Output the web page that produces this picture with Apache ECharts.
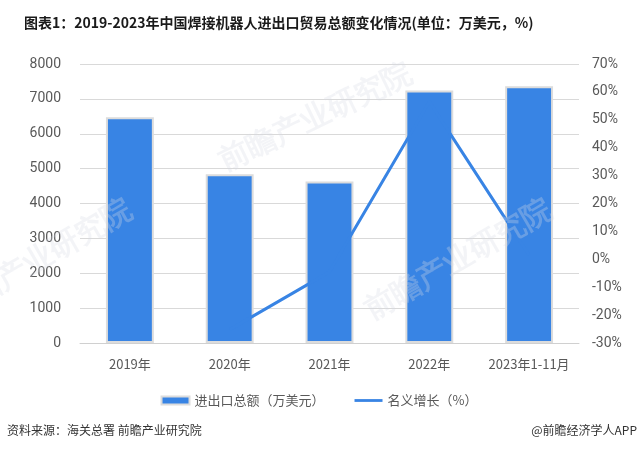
<!DOCTYPE html>
<html>
<head>
<meta charset="utf-8">
<script src="https://cdn.jsdelivr.net/npm/echarts@6/dist/echarts.min.js"></script>
<style>
  html, body { margin: 0; padding: 0; background: #fff; }
  #main { width: 638px; height: 452px; }
</style>
</head>
<body>
<div id="main"></div>
<script>
// 数据
var years = ['2019年', '2020年', '2021年', '2022年', '2023年1-11月'];
var totals = [6470, 4840, 4630, 7240, 7360];      // 进出口总额（万美元）
var growth = [null, -25.2, -4.5, 56.5, 1.5];      // 名义增长（%）

var blue = '#3884e4';
var grey = '#595959';
var wmColor = 'rgba(215,219,228,0.3)';

var chart = echarts.init(document.getElementById('main'));
chart.setOption({
  backgroundColor: '#fff',
  animation: false,
  title: {
    text: '图表1：2019-2023年中国焊接机器人进出口贸易总额变化情况(单位：万美元，%)',
    left: 19,
    top: 11,
    textStyle: { fontSize: 14, fontWeight: 'bold', color: '#1a1a1a', fontFamily: 'Noto Sans CJK SC' }
  },
  legend: {
    top: 389,
    left: 'center',
    itemGap: 30,
    itemWidth: 28,
    itemHeight: 8,
    textStyle: { fontSize: 13, color: grey, fontFamily: 'Noto Sans CJK SC' },
    data: [
      { name: '进出口总额（万美元）', icon: 'rect' },
      { name: '名义增长（%）', icon: 'path://M0,0 H30 V3 H0 Z' }
    ]
  },
  grid: { left: 80, right: 59, top: 64, bottom: 109 },
  xAxis: {
    type: 'category',
    data: years,
    axisLine: { lineStyle: { color: '#d0d0d0' } },
    axisTick: { length: 5, lineStyle: { color: '#d0d0d0' } },
    axisLabel: { color: grey, fontSize: 13, margin: 15, interval: 0, fontFamily: 'Noto Sans CJK SC' }
  },
  yAxis: [
    {
      type: 'value',
      min: 0, max: 8000, interval: 1000,
      axisLabel: { color: grey, fontSize: 14, margin: 19, formatter: function (v) { return String(v); }, fontFamily: 'Roboto' },
      splitLine: { lineStyle: { color: '#d9d9d9' } }
    },
    {
      type: 'value',
      min: -30, max: 70, interval: 10,
      axisLabel: { color: grey, fontSize: 14, margin: 13, formatter: '{value}%', fontFamily: 'Roboto' },
      splitLine: { show: false }
    }
  ],
  series: [
    {
      name: '进出口总额（万美元）',
      type: 'bar',
      data: totals,
      barWidth: '48%',
      itemStyle: { color: blue, borderColor: '#dcdcdc', borderWidth: 2 }
    },
    {
      name: '名义增长（%）',
      type: 'line',
      yAxisIndex: 1,
      data: growth,
      symbol: 'none',
      lineStyle: { color: blue, width: 3 },
      itemStyle: { color: blue }
    }
  ],
  graphic: [
    // 水印
    { type: 'text', x: 215, y: 150, rotation: Math.PI / 7, z: 100,
      style: { text: '前瞻产业研究院', fontSize: 30, fontWeight: 'bold', fill: wmColor } },
    { type: 'text', x: 360, y: 300, rotation: Math.PI / 6, z: 100,
      style: { text: '前瞻产业研究院', fontSize: 30, fontWeight: 'bold', fill: wmColor } },
    { type: 'text', x: -60, y: 300, rotation: Math.PI / 6, z: 100,
      style: { text: '前瞻产业研究院', fontSize: 30, fontWeight: 'bold', fill: wmColor } },
    // 来源
    { type: 'text', left: 7, top: 424,
      style: { text: '资料来源：海关总署 前瞻产业研究院', fontSize: 12, fill: '#333', fontFamily: 'Noto Sans CJK SC' } },
    { type: 'text', right: 1, top: 424,
      style: { text: '@前瞻经济学人APP', fontSize: 12, fill: '#333', fontFamily: 'Noto Sans CJK SC' } }
  ]
});
</script>
</body>
</html>
